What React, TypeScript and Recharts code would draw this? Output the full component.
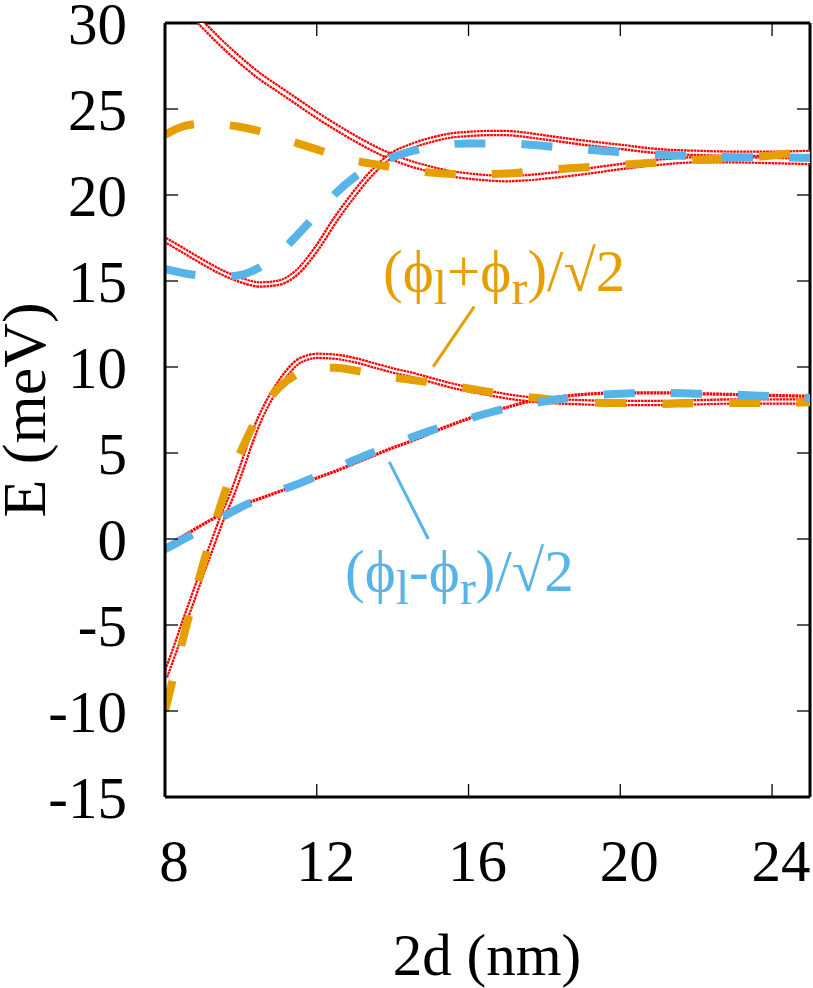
import { LineChart, Line, XAxis, YAxis, ReferenceLine, Customized } from 'recharts';

const FONT = '"Liberation Serif", "Times New Roman", serif';
const RED = '#ff0000';
const ORANGE = '#e69f00';
const BLUE = '#56b4e9';

// plot box size in px (used to mirror the ticks on the top and right edges)
const PLOT_W = 645;
const PLOT_H = 774;

const xTicks = [8, 12, 16, 20, 24];
const yTicks = [-15, -10, -5, 0, 5, 10, 15, 20, 25, 30];

// red (computed) levels, upper pair: branch coming down from the top
const redTopX = [8.6, 9, 9.5, 10, 10.5, 11, 11.5, 12, 12.5, 13, 13.5, 14, 14.5, 15, 15.5, 16, 16.5, 17, 17.5, 18, 19, 20, 21, 22, 23, 24, 25];
const redTopY = [30.8, 29.9, 28.8, 27.8, 26.9, 26.15, 25.4, 24.65, 23.95, 23.3, 22.7, 22.2, 21.8, 21.5, 21.25, 21.1, 21.0, 20.95, 21.0, 21.1, 21.35, 21.65, 21.9, 22.05, 22.05, 22.0, 21.95];

// red, upper pair: branch with the minimum near 10.5 nm
const redDipX = [8, 8.5, 9, 9.5, 10, 10.5, 11, 11.5, 12, 12.5, 13, 13.5, 14, 14.5, 15, 15.5, 16, 16.5, 17, 17.5, 18, 19, 20, 21, 22, 23, 24, 25];
const redDipY = [17.4, 16.75, 16.1, 15.5, 15.05, 14.8, 14.9, 15.55, 16.9, 18.6, 20.1, 21.4, 22.35, 22.85, 23.2, 23.45, 23.55, 23.6, 23.6, 23.5, 23.35, 23.05, 22.8, 22.55, 22.45, 22.4, 22.4, 22.45];

// red, lower pair: steep branch with the peak near 12 nm
const redPeakX = [8, 8.25, 8.5, 8.75, 9, 9.25, 9.5, 9.75, 10, 10.25, 10.5, 10.75, 11, 11.25, 11.5, 11.75, 12, 12.5, 13, 13.5, 14, 14.5, 15, 15.5, 16, 16.5, 17, 17.5, 18, 19, 20, 21, 22, 23, 24, 25];
const redPeakY = [-8.0, -6.5, -4.9, -3.35, -1.8, -0.3, 1.2, 2.5, 4.0, 5.6, 7.0, 8.1, 9.0, 9.75, 10.3, 10.55, 10.65, 10.6, 10.4, 10.1, 9.8, 9.55, 9.25, 8.95, 8.7, 8.5, 8.3, 8.15, 8.05, 7.95, 7.9, 7.9, 7.95, 8.0, 8.0, 8.0];

// red, lower pair: slowly rising branch
const redRiseX = [8, 8.5, 9, 9.5, 10, 10.5, 11, 11.5, 12, 12.5, 13, 13.5, 14, 14.5, 15, 15.5, 16, 16.5, 17, 17.5, 18, 19, 20, 21, 22, 23, 24, 25];
const redRiseY = [-0.45, 0.2, 0.85, 1.45, 1.95, 2.35, 2.75, 3.15, 3.55, 3.95, 4.4, 4.85, 5.3, 5.7, 6.15, 6.6, 7.0, 7.35, 7.65, 7.95, 8.15, 8.4, 8.5, 8.5, 8.45, 8.4, 8.35, 8.3];

// (phi_l + phi_r)/sqrt2, dashed orange
const plusUpX = [8, 8.5, 9, 9.5, 10, 10.5, 11, 11.5, 12, 12.5, 13, 13.5, 14, 15, 16, 17, 18, 19, 20, 21, 22, 23, 24, 25];
const plusUpY = [23.5, 24.0, 24.15, 24.1, 23.95, 23.7, 23.35, 23.0, 22.65, 22.3, 22.0, 21.8, 21.6, 21.3, 21.2, 21.25, 21.45, 21.6, 21.75, 21.9, 22.05, 22.15, 22.3, 22.55];
const plusLowX = [8, 8.5, 9, 9.5, 10, 10.5, 11, 11.5, 12, 12.5, 13, 13.5, 14, 15, 16, 17, 18, 19, 20, 21, 22, 23, 24, 25];
const plusLowY = [-10.0, -5.6, -1.5, 2.2, 5.1, 7.3, 8.8, 9.6, 9.95, 9.95, 9.8, 9.6, 9.4, 9.1, 8.75, 8.4, 8.15, 7.95, 7.9, 7.85, 7.9, 7.9, 7.9, 7.95];

// (phi_l - phi_r)/sqrt2, dashed blue
const minusUpX = [8, 8.5, 9, 9.5, 10, 10.5, 11, 11.5, 12, 12.5, 13, 13.5, 14, 14.5, 15, 16, 17, 18, 19, 20, 21, 22, 23, 24, 25];
const minusUpY = [15.7, 15.45, 15.3, 15.25, 15.35, 15.8, 16.6, 17.7, 18.9, 20.1, 21.05, 21.75, 22.2, 22.55, 22.8, 23.0, 23.0, 22.85, 22.65, 22.5, 22.35, 22.25, 22.2, 22.2, 22.15];
const minusLowX = [8, 8.5, 9, 9.5, 10, 10.5, 11, 11.5, 12, 12.5, 13, 13.5, 14, 15, 16, 17, 18, 19, 20, 21, 22, 23, 24, 25];
const minusLowY = [-0.6, 0.0, 0.6, 1.25, 1.85, 2.35, 2.8, 3.2, 3.65, 4.1, 4.6, 5.05, 5.5, 6.3, 7.0, 7.6, 8.0, 8.3, 8.45, 8.5, 8.45, 8.4, 8.3, 8.2];

const rows = (xs: number[], ys: number[]) => xs.map((x, i) => ({ x, y: ys[i] }));

// bottom tick + label, plus the mirrored tick on the top edge
const XTick = (props: any) => {
  const { x, y, payload } = props;
  return (
    <g>
      <line x1={x} x2={x} y1={y} y2={y - 13} stroke="#000" strokeWidth={1.3} />
      <line x1={x} x2={x} y1={y - PLOT_H} y2={y - PLOT_H + 13} stroke="#000" strokeWidth={1.3} />
      <text x={x + 9} y={y + 84} textAnchor="middle" fontSize={59} fontFamily={FONT} fill="#000">
        {payload.value}
      </text>
    </g>
  );
};

// left tick + label, plus the mirrored tick on the right edge
const YTick = (props: any) => {
  const { x, y, payload } = props;
  return (
    <g>
      <line x1={x} x2={x + 13} y1={y} y2={y} stroke="#000" strokeWidth={1.3} />
      <line x1={x + PLOT_W} x2={x + PLOT_W - 13} y1={y} y2={y} stroke="#000" strokeWidth={1.3} />
      <text x={x - 38} y={y + 21} textAnchor="end" fontSize={59} fontFamily={FONT} fill="#000">
        {payload.value}
      </text>
    </g>
  );
};

const Labels = () => (
  <g fontFamily={FONT} fontSize={59}>
    <text transform="rotate(-90)" x={-410} y={45} textAnchor="middle" fontSize={62} fill="#000">E (meV)</text>
    <text x={487} y={975} textAnchor="middle" fill="#000">2d (nm)</text>
    <text x={383} y={291} fill={ORANGE}>
      (ϕ<tspan dy={13} fontSize={48}>l</tspan>
      <tspan dy={-13}>+ϕ</tspan>
      <tspan dy={13} fontSize={48}>r</tspan>
      <tspan dy={-13}>)/√2</tspan>
    </text>
    <text x={345} y={591} fill={BLUE}>
      (ϕ<tspan dy={13} fontSize={48}>l</tspan>
      <tspan dy={-13}>-ϕ</tspan>
      <tspan dy={13} fontSize={48}>r</tspan>
      <tspan dy={-13}>)/√2</tspan>
    </text>
  </g>
);

// a red level drawn as two close dotted lines
const redPair = (key: string, data: { x: number; y: number }[], w: number, gap: number) => [
  <Line key={key} data={data} dataKey="y" type="monotone" stroke={RED} strokeWidth={w}
    strokeDasharray="2.6 0.7" dot={false} isAnimationActive={false} />,
  <Line key={key + '-gap'} data={data} dataKey="y" type="monotone" stroke="#fff" strokeWidth={gap}
    dot={false} isAnimationActive={false} />,
];

export default function App() {
  const dashed = { type: 'monotone' as const, strokeWidth: 8, strokeDasharray: '31 36', dot: false, isAnimationActive: false };
  return (
    <div style={{ position: 'absolute', left: 0, top: 0, background: '#fff' }}>
      <LineChart width={813} height={988} margin={{ top: 23, right: 3, bottom: 0, left: 0 }}>
        <XAxis dataKey="x" type="number" domain={[8, 25]} ticks={xTicks} allowDataOverflow
          height={191} tickSize={0} tickMargin={0} tickLine={false} tick={<XTick />}
          axisLine={{ stroke: '#000', strokeWidth: 3 }} />
        <YAxis type="number" domain={[-15, 30]} ticks={yTicks} allowDataOverflow width={165}
          tickSize={0} tickMargin={0} tickLine={false} tick={<YTick />}
          axisLine={{ stroke: '#000', strokeWidth: 3 }} />

        <ReferenceLine y={30} stroke="#000" strokeWidth={3} />
        <ReferenceLine x={25} stroke="#000" strokeWidth={3} />

        {redPair('redTop', rows(redTopX, redTopY), 7.5, 3)}
        {redPair('redDip', rows(redDipX, redDipY), 6.5, 2)}
        {redPair('redPeak', rows(redPeakX, redPeakY), 6.5, 2)}
        <Line data={rows(redRiseX, redRiseY)} dataKey="y" type="monotone" stroke={RED} strokeWidth={3.2}
          strokeDasharray="2.6 0.7" dot={false} isAnimationActive={false} />

        <Line data={rows(plusUpX, plusUpY)} dataKey="y" stroke={ORANGE} {...dashed} />
        <Line data={rows(plusLowX, plusLowY)} dataKey="y" stroke={ORANGE} {...dashed} />
        <Line data={rows(minusUpX, minusUpY)} dataKey="y" stroke={BLUE} {...dashed} />
        <Line data={rows(minusLowX, minusLowY)} dataKey="y" stroke={BLUE} {...dashed} />

        <ReferenceLine segment={[{ x: 16.15, y: 13.51 }, { x: 15.07, y: 10.02 }]} stroke={ORANGE} strokeWidth={3} />
        <ReferenceLine segment={[{ x: 13.91, y: 4.48 }, { x: 14.94, y: 0.0 }]} stroke={BLUE} strokeWidth={3} />

        <Customized component={Labels} />
      </LineChart>
    </div>
  );
}
